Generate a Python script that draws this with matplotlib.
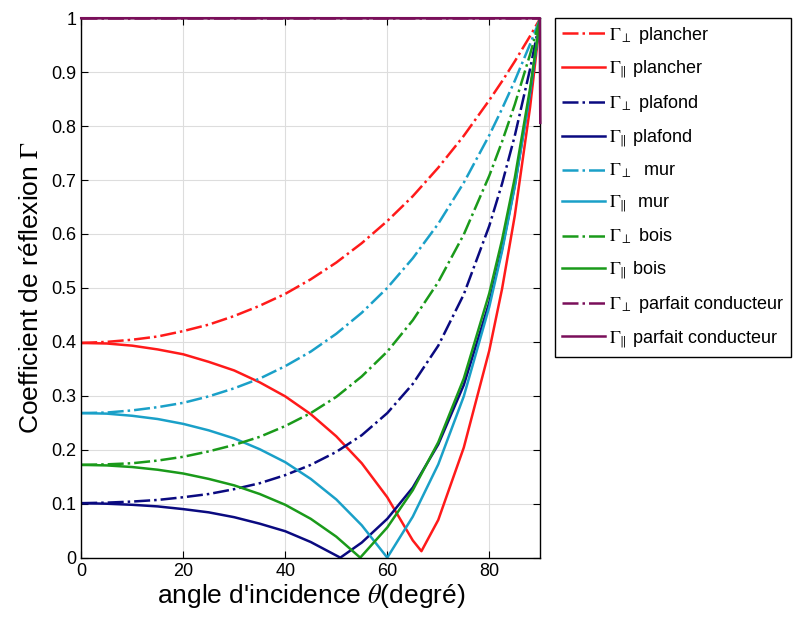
import matplotlib.pyplot as plt
import numpy as np

plt.rcParams['font.family'] = ['Liberation Sans', 'DejaVu Sans']
plt.rcParams['mathtext.fontset'] = 'stix'

# angles (degrés) et coefficients
theta = [0, 5, 10, 15, 20, 25, 30, 35, 40, 45, 50, 55, 60, 65, 70, 75, 80, 82.5, 85, 88, 90]

plancher_perp = [0.398, 0.400, 0.404, 0.410, 0.420, 0.432, 0.448, 0.467, 0.489, 0.516, 0.547, 0.583,
                 0.624, 0.670, 0.723, 0.782, 0.848, 0.883, 0.920, 0.967, 1.0]
mur_perp = [0.268, 0.269, 0.273, 0.279, 0.287, 0.299, 0.314, 0.332, 0.355, 0.382, 0.415, 0.454,
            0.500, 0.555, 0.619, 0.695, 0.783, 0.832, 0.884, 0.952, 1.0]
bois_perp = [0.172, 0.173, 0.175, 0.180, 0.187, 0.197, 0.209, 0.224, 0.244, 0.268, 0.298, 0.336,
             0.382, 0.440, 0.511, 0.599, 0.708, 0.771, 0.840, 0.933, 1.0]
plafond_perp = [0.101, 0.102, 0.104, 0.107, 0.112, 0.118, 0.127, 0.138, 0.153, 0.172, 0.196, 0.227,
                0.268, 0.322, 0.393, 0.488, 0.615, 0.693, 0.782, 0.906, 1.0]

theta_plancher_par = [0, 5, 10, 15, 20, 25, 30, 35, 40, 45, 50, 55, 60, 65, 66.7, 70, 75, 80, 82.5, 85, 88, 90]
plancher_par = [0.398, 0.397, 0.393, 0.386, 0.377, 0.363, 0.347, 0.325, 0.299, 0.266, 0.225, 0.175,
                0.112, 0.032, 0.012, 0.070, 0.204, 0.384, 0.498, 0.634, 0.835, 1.0]
theta_mur_par = [0, 5, 10, 15, 20, 25, 30, 35, 40, 45, 50, 55, 60, 65, 70, 75, 80, 82.5, 85, 88, 90]
mur_par = [0.268, 0.267, 0.263, 0.257, 0.248, 0.236, 0.221, 0.201, 0.177, 0.146, 0.108, 0.060,
           0.0, 0.076, 0.173, 0.299, 0.465, 0.568, 0.688, 0.862, 1.0]
theta_bois_par = [0, 5, 10, 15, 20, 25, 30, 35, 40, 45, 50, 54.7, 60, 65, 70, 75, 80, 82.5, 85, 88, 90]
bois_par = [0.172, 0.171, 0.168, 0.163, 0.156, 0.146, 0.134, 0.118, 0.098, 0.072, 0.039, 0.0,
            0.056, 0.125, 0.214, 0.332, 0.490, 0.589, 0.704, 0.870, 1.0]
theta_plafond_par = [0, 5, 10, 15, 20, 25, 30, 35, 40, 45, 50.8, 55, 60, 65, 70, 75, 80, 82.5, 85, 88, 90]
plafond_par = [0.101, 0.100, 0.098, 0.095, 0.090, 0.084, 0.075, 0.063, 0.049, 0.029, 0.0, 0.028,
               0.072, 0.130, 0.210, 0.320, 0.473, 0.572, 0.690, 0.862, 1.0]

theta_pc = [0, 88, 89.9, 90]
pc_perp = [1.0, 1.0, 1.0, 1.0]
pc_par = [1.0, 1.0, 1.0, 0.806]

c_red = '#ff1a1a'
c_navy = '#0a0a80'
c_cyan = '#1aa0c8'
c_green = '#1a9a1a'
c_purple = '#7a0f5a'

fig = plt.figure(figsize=(8.04, 6.28), dpi=100)
ax = fig.add_axes([0.101, 0.112, 0.571, 0.859])

lw = 1.8
ax.plot(theta, plancher_perp, '-.', color=c_red, lw=lw, label=r'$\Gamma_{\perp}$ plancher')
ax.plot(theta_plancher_par, plancher_par, '-', color=c_red, lw=lw, label=r'$\Gamma_{\Vert}$ plancher')
ax.plot(theta, plafond_perp, '-.', color=c_navy, lw=lw, label=r'$\Gamma_{\perp}$ plafond')
ax.plot(theta_plafond_par, plafond_par, '-', color=c_navy, lw=lw, label=r'$\Gamma_{\Vert}$ plafond')
ax.plot(theta, mur_perp, '-.', color=c_cyan, lw=lw, label=r'$\Gamma_{\perp}$  mur')
ax.plot(theta_mur_par, mur_par, '-', color=c_cyan, lw=lw, label=r'$\Gamma_{\Vert}$  mur')
ax.plot(theta, bois_perp, '-.', color=c_green, lw=lw, label=r'$\Gamma_{\perp}$ bois')
ax.plot(theta_bois_par, bois_par, '-', color=c_green, lw=lw, label=r'$\Gamma_{\Vert}$ bois')
ax.plot(theta_pc, pc_perp, '-.', color=c_purple, lw=lw, clip_on=False, zorder=5,
        label=r'$\Gamma_{\perp}$ parfait conducteur')
ax.plot(theta_pc, pc_par, '-', color=c_purple, lw=lw, clip_on=False, zorder=5,
        label=r'$\Gamma_{\Vert}$ parfait conducteur')

ax.set_xlim(0, 90)
ax.set_ylim(0, 1)
ax.set_xticks([0, 20, 40, 60, 80])
ax.set_yticks(np.arange(0, 1.01, 0.1))
ax.set_yticklabels(['0', '0.1', '0.2', '0.3', '0.4', '0.5', '0.6', '0.7', '0.8', '0.9', '1'])
ax.grid(True, color='#dddddd', lw=0.8)
ax.tick_params(direction='in', top=True, right=True, labelsize=13, length=5)
for s in ax.spines.values():
    s.set_linewidth(1.0)

ax.set_xlabel(r"angle d'incidence $\mathit{\theta}$(degré)", fontsize=19, labelpad=2)
ax.set_ylabel(r'Coefficient de réflexion $\Gamma$', fontsize=19, labelpad=6)

leg = fig.legend(loc='upper left', bbox_to_anchor=(0.690, 0.972), fontsize=13,
                 handlelength=2.4, handletextpad=0.2, labelspacing=0.72,
                 fancybox=False, edgecolor='black', framealpha=1, borderaxespad=0)
leg.get_frame().set_linewidth(1.0)

plt.savefig('out.png', dpi=100)
